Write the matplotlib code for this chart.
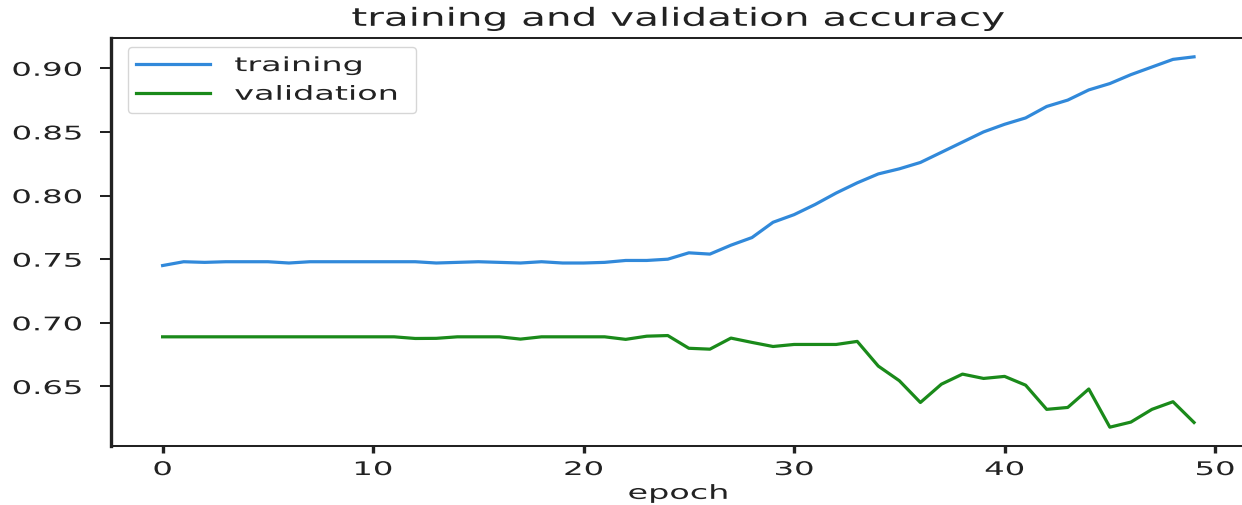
import numpy as np
import matplotlib
matplotlib.use('Agg')
import matplotlib.pyplot as plt
from matplotlib.patheffects import AbstractPathEffect
from matplotlib.transforms import Affine2D

epochs = np.arange(50)

training = [0.745, 0.748, 0.7475, 0.748, 0.748, 0.748, 0.747, 0.748, 0.748, 0.748,
            0.748, 0.748, 0.748, 0.747, 0.7475, 0.748, 0.7475, 0.747, 0.748, 0.747,
            0.747, 0.7475, 0.749, 0.749, 0.750, 0.755, 0.754, 0.761, 0.767, 0.779,
            0.785, 0.793, 0.802, 0.810, 0.817, 0.821, 0.826, 0.834, 0.842, 0.850,
            0.856, 0.861, 0.870, 0.875, 0.883, 0.888, 0.895, 0.901, 0.907, 0.909]

validation = [0.689, 0.689, 0.689, 0.689, 0.689, 0.689, 0.689, 0.689, 0.689, 0.689,
              0.689, 0.689, 0.6877, 0.6878, 0.689, 0.689, 0.689, 0.6872, 0.689, 0.689,
              0.689, 0.689, 0.687, 0.6895, 0.690, 0.680, 0.6793, 0.688, 0.6846, 0.6814,
              0.683, 0.683, 0.683, 0.6854, 0.666, 0.6545, 0.6374, 0.6518, 0.6597, 0.6563,
              0.6579, 0.651, 0.632, 0.6335, 0.648, 0.618, 0.622, 0.632, 0.638, 0.6217]

x_ticks = [0, 10, 20, 30, 40, 50]
y_ticks = [0.65, 0.70, 0.75, 0.80, 0.85, 0.90]

TRAIN_COLOR = '#3189da'
VALID_COLOR = '#1a8a1a'
TEXT_COLOR = '#222222'
WIDEN = 1.72


class Widen(AbstractPathEffect):
    """ Stretch text sideways, keeping its left, middle or right edge in place """

    def __init__(self, anchor='center', factor=WIDEN):
        super().__init__()
        self.anchor = anchor
        self.factor = factor

    def draw_path(self, renderer, gc, tpath, affine, rgbFace=None):
        box = tpath.get_extents(affine)
        x0 = {'left': box.x0, 'center': (box.x0 + box.x1) / 2, 'right': box.x1}[self.anchor]
        stretch = Affine2D().translate(-x0, 0).scale(self.factor, 1).translate(x0, 0)
        renderer.draw_path(gc, tpath, affine + stretch, rgbFace)


fig = plt.figure(figsize=(12.42, 5.06), dpi=100)
ax = fig.add_axes([0.0894, 0.1172, 0.9135, 0.8051])

ax.plot(epochs, training, color=TRAIN_COLOR, lw=2.3, label='training')
ax.plot(epochs, validation, color=VALID_COLOR, lw=2.3, label='validation')

ax.set_xticks(x_ticks)
ax.set_yticks(y_ticks)
ax.tick_params(axis='y', length=7.9, width=1.45, pad=13, labelsize=13.5,
               color=TEXT_COLOR, labelcolor=TEXT_COLOR)
ax.tick_params(axis='x', length=5, width=2.4, pad=5.3, labelsize=13.5,
               color=TEXT_COLOR, labelcolor=TEXT_COLOR)

for side in ['top', 'bottom']:
    ax.spines[side].set_linewidth(1.45)
for side in ['left', 'right']:
    ax.spines[side].set_linewidth(2.4)
for spine in ax.spines.values():
    spine.set_color(TEXT_COLOR)

for label in ax.get_xticklabels():
    label.set_path_effects([Widen('center')])
for label in ax.get_yticklabels():
    label.set_path_effects([Widen('right')])

ax.set_title('training and validation accuracy', fontsize=18, pad=9.0,
             color=TEXT_COLOR, path_effects=[Widen('center', 1.62)])
ax.set_xlabel('epoch', fontsize=14, labelpad=3.5, color=TEXT_COLOR,
              path_effects=[Widen('center')])

leg = ax.legend(loc='upper left', bbox_to_anchor=(0.0147, 0.5, 0.2538, 0.4779),
                mode='expand', borderaxespad=0, fontsize=14, handlelength=3.76,
                handletextpad=1.29, borderpad=0.45)
for text in leg.get_texts():
    text.set_color(TEXT_COLOR)
    text.set_path_effects([Widen('left')])

fig.savefig('out.png', dpi=100)
